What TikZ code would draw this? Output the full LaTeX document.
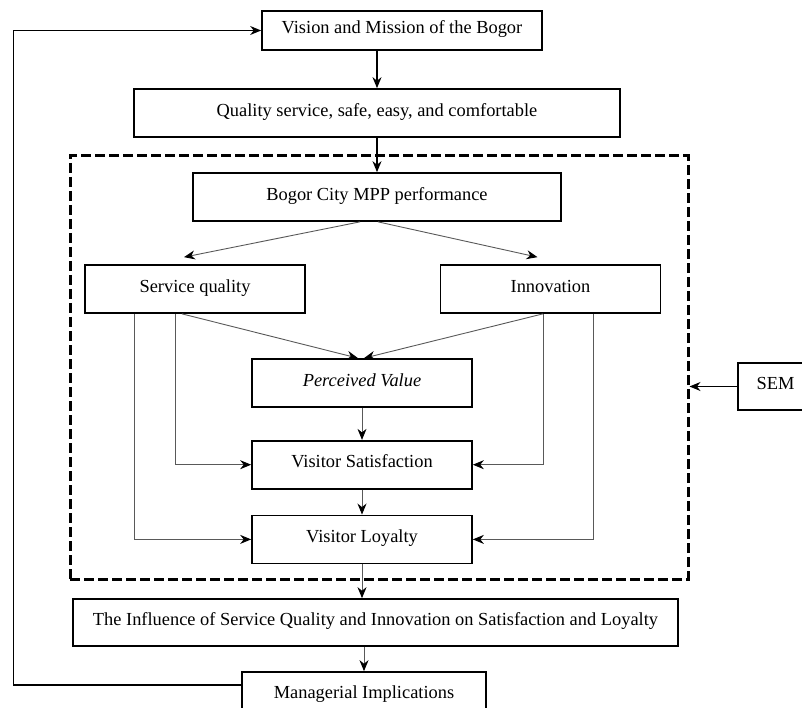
\documentclass[tikz,border=0pt]{standalone}
\usepackage{fontspec}
\setmainfont{Liberation Serif}
\usetikzlibrary{arrows.meta,positioning}

\begin{document}
\begin{tikzpicture}[x=1pt,y=-1pt,>={Stealth[length=11pt,width=9pt,color=black]},font=\fontsize{18.4}{22}\selectfont]
\tikzstyle{box}=[rectangle,draw=black,line width=1.7pt,align=center,minimum width=220pt,minimum height=48pt,inner sep=2pt,text height=0.75em,text depth=0.12em]
\tikzstyle{flow}=[->,line width=1.3pt]
\tikzstyle{link}=[->,draw=black!65,line width=0.9pt]
\useasboundingbox (0,0) rectangle (802,708);
\node[box,minimum width=280pt,minimum height=39pt] (vision) at (402,30.5) {Vision and Mission of the Bogor};
\node[box,minimum width=486pt] (quality) at (377,113) {Quality service, safe, easy, and comfortable};
\node[draw,line width=3pt,dash pattern=on 10pt off 4pt,minimum width=618pt,minimum height=423pt] (frame) at (379,367.5) {};
\node[box,minimum width=368pt] (mpp) at (377,197) {Bogor City MPP performance};
\node[box] (service) at (195,289) {Service quality};
\node[box] (innov) at (550.5,289) {Innovation};
\node[box] (value) at (362,383) {\textit{Perceived Value}};
\node[box,below=32pt of value] (satisf) {Visitor Satisfaction};
\node[box,below=25pt of satisf] (loyal) {Visitor Loyalty};
\node[box,minimum width=605pt,minimum height=47pt] (influence) at (375.5,622.5) {The Influence of Service Quality and Innovation on Satisfaction and Loyalty};
\node[box,minimum width=244pt,minimum height=46pt] (implic) at (364,695) {Managerial Implications};
\node[box,minimum width=75pt,minimum height=47pt] (sem) at (775.5,386.5) {SEM};
% main flow
\draw[flow] (vision.south -| quality.north) -- (quality.north);
\draw[flow] (quality.south) -- (mpp.north);
\draw[link] ([xshift=-17pt]mpp.south) -- ([xshift=-11pt,yshift=7pt]service.north);
\draw[link] ([xshift=1pt]mpp.south) -- ([xshift=-13pt,yshift=7pt]innov.north);
\draw[link] ([xshift=-13pt]service.south) -- ([xshift=-4pt]value.north);
\draw[link] ([xshift=-7.5pt]innov.south) -- ([xshift=2pt]value.north);
\draw[link] ([xshift=-20pt]service.south) |- (satisf.west);
\draw[link] ([xshift=-61pt]service.south) |- (loyal.west);
\draw[link] ([xshift=-7.5pt]innov.south) |- (satisf.east);
\draw[link] ([xshift=42.5pt]innov.south) |- (loyal.east);
\draw[link] (value) -- (satisf);
\draw[link] (satisf) -- (loyal);
\draw[link] (loyal.south) -- (influence.north -| loyal.south);
\draw[link] (influence.south -| implic.north) -- (implic.north);
% feedback
\draw[flow] ([yshift=10pt]implic.west) -| ([xshift=-248pt]vision.west) -- (vision.west);
\draw[link,draw=black] (sem.west) -- (sem.west -| frame.east);
\end{tikzpicture}
\end{document}
